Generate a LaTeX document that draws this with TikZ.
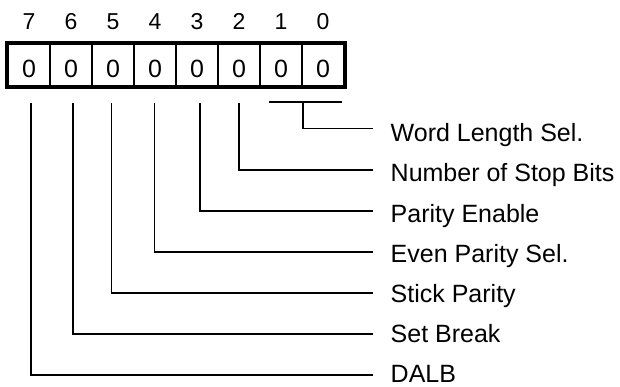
\documentclass[tikz,border=0pt]{standalone}
\usepackage{fontspec}
\setmainfont{Liberation Sans}
\usetikzlibrary{fit}
\begin{document}
\begin{tikzpicture}[x=1pt,y=-1pt,
  cellbox/.style={draw,line width=1.6pt,minimum width=42pt,minimum height=42.5pt,inner sep=0pt,anchor=center},
  digit/.style={inner sep=0pt,anchor=base,font=\fontsize{25}{30}\selectfont},
  bitnum/.style={inner sep=0pt,anchor=base,font=\fontsize{23}{28}\selectfont},
  lbl/.style={inner sep=0pt,anchor=base west,font=\fontsize{25}{30}\selectfont},
  wire/.style={line width=1.6pt}]
\useasboundingbox (0,0) rectangle (620,386);
% cells
\foreach \i/\x in {7/29,6/71,5/113,4/155,3/197,2/239,1/281,0/323}{
  \node[cellbox] (c\i) at (\x,64.75) {};
  \node[digit] (d\i) at (\x,77) {0};
  \node[bitnum] (n\i) at (\x,29.7) {\i};
}
\node[draw,line width=4pt,inner sep=0pt,fit=(c7)(c0)] (reg) {};
% labels
\foreach \i/\y/\t in {0/141.5/Word Length Sel.,2/181.7/Number of Stop Bits,3/222/Parity Enable,4/262.5/Even Parity Sel.,5/302.5/Stick Parity,6/342.5/Set Break,7/382.7/DALB}{
  \node[lbl] (l\i) at (390.5,\y) {\t};
}
% line ends
\foreach \i/\y in {0/128.3,2/170,3/211,4/252,5/293,6/334,7/375}{
  \coordinate (e\i) at (373,\y);
}
% vertical start coordinates
\foreach \i/\x in {7/31,6/73,5/111.5,4/154.5,3/200,2/239}{
  \coordinate (s\i) at (\x,103);
}
\foreach \i in {7,6,5,4,3,2}{
  \draw[wire] (s\i) |- (e\i);
}
% bracket for bits 1 and 0
\coordinate (bl) at (269,102);
\coordinate (br) at (342,102);
\coordinate (bm) at (303,102);
\draw[wire] (bl) -- (br);
\draw[wire] (bm) |- (e0);
\end{tikzpicture}
\end{document}
